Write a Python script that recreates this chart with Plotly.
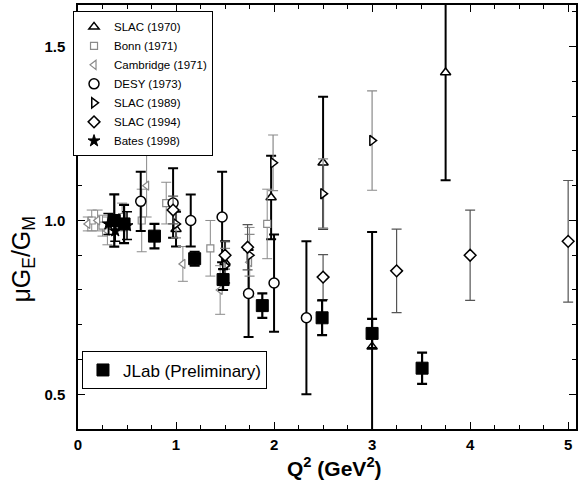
import plotly.graph_objects as go

# ---- data ----
jlab_q2 = [0.37, 0.47, 0.78, 1.19, 1.48, 1.88, 2.49, 3.00, 3.51]
jlab_r = [1.00, 0.99, 0.955, 0.89, 0.83, 0.755, 0.72, 0.675, 0.575]
jlab_err = [0.075, 0.055, 0.035, 0.02, 0.03, 0.035, 0.05, 0.042, 0.045]

slac70_q2 = [1.00, 1.50, 1.97, 2.50, 3.00, 3.75]
slac70_r = [0.975, 0.88, 1.066, 1.166, 0.637, 1.426]
slac70_err = [0.05, 0.06, 0.12, 0.19, 0.33, 0.31]

bonn_q2 = [0.14, 0.25, 0.45, 0.65, 0.90, 1.35, 1.93]
bonn_r = [1.00, 0.985, 1.01, 1.00, 1.05, 0.92, 0.99]
bonn_err = [0.03, 0.03, 0.04, 0.09, 0.06, 0.08, 0.10]

camb_q2 = [0.10, 0.20, 0.30, 0.70, 1.07, 1.45, 1.75]
camb_r = [0.99, 1.00, 0.97, 1.10, 0.875, 0.80, 0.88]
camb_err = [0.02, 0.03, 0.04, 0.09, 0.05, 0.07, 0.10]

desy_q2 = [0.64, 0.97, 1.15, 1.47, 1.74, 2.00, 2.33]
desy_r = [1.055, 1.05, 1.00, 1.01, 0.79, 0.82, 0.72]
desy_err = [0.085, 0.10, 0.075, 0.13, 0.125, 0.14, 0.22]

slac89_q2 = [1.00, 1.50, 1.75, 1.99, 2.50, 3.00]
slac89_r = [0.99, 0.87, 0.90, 1.166, 1.077, 1.23]
slac89_err = [0.04, 0.05, 0.06, 0.08, 0.10, 0.143]

slac94_q2 = [0.97, 1.50, 1.73, 2.50, 3.25, 4.00, 5.00]
slac94_r = [1.03, 0.90, 0.923, 0.837, 0.855, 0.90, 0.94]
slac94_err = [0.04, 0.04, 0.065, 0.065, 0.12, 0.13, 0.175]

bates_q2 = [0.31, 0.38, 0.50]
bates_r = [0.99, 0.97, 0.985]
bates_err = [0.03, 0.03, 0.04]

x_ticks = [0, 1, 2, 3, 4, 5]
y_ticks = [0.5, 1.0, 1.5]

FONT = "Liberation Sans, Arial, Helvetica, sans-serif"
GRAY = "#8a8a8a"

fig = go.Figure()


def add(name, x, y, e, symbol, size, color, ecolor, ewidth, lw, legend="legend", filled=False):
    fig.add_trace(go.Scatter(
        x=x, y=y, mode="markers", name=name, legend=legend,
        error_y=dict(type="data", array=e, visible=True, color=ecolor,
                     thickness=ewidth, width=5),
        marker=dict(symbol=symbol, size=size,
                    color=color if filled else "white",
                    line=dict(color=color, width=lw)),
    ))


add("SLAC (1970)", slac70_q2, slac70_r, slac70_err, "triangle-up", 9, "black", "black", 2, 1.5)
add("Bonn (1971)", bonn_q2, bonn_r, bonn_err, "square", 7, GRAY, GRAY, 1, 1.2)
add("Cambridge (1971)", camb_q2, camb_r, camb_err, "triangle-left", 8, GRAY, GRAY, 1, 1.2)
add("DESY (1973)", desy_q2, desy_r, desy_err, "circle", 10, "black", "black", 2, 1.5)
add("SLAC (1989)", slac89_q2, slac89_r, slac89_err, "triangle-right", 9, "black", GRAY, 1.2, 1.5)
add("SLAC (1994)", slac94_q2, slac94_r, slac94_err, "diamond", 9, "black", "#555555", 1.2, 1.5)
add("Bates (1998)", bates_q2, bates_r, bates_err, "star", 9, "black", "black", 1.5, 1, filled=True)
add("JLab (Preliminary)", jlab_q2, jlab_r, jlab_err, "square", 12, "black", "black", 2.2, 1,
    legend="legend2", filled=True)

axis_common = dict(
    showline=True, linecolor="black", linewidth=1.5, mirror="ticks",
    ticks="inside", tickcolor="black", tickwidth=1.2, ticklen=7,
    showgrid=False, zeroline=False,
    tickfont=dict(family=FONT, size=15, color="black", weight="bold"),
)

fig.update_xaxes(range=[0, 5.08], tickvals=x_ticks, ticktext=[str(v) for v in x_ticks],
                 minor=dict(dtick=0.25, ticks="inside", ticklen=4, tickcolor="black", tickwidth=1),
                 ticklabelstandoff=1, **axis_common)
fig.update_yaxes(range=[0.40, 1.62], tickvals=y_ticks, ticktext=[f"{v:.1f}" for v in y_ticks],
                 minor=dict(dtick=0.1, ticks="inside", ticklen=4, tickcolor="black", tickwidth=1),
                 ticklabelstandoff=8, **axis_common)

fig.update_layout(
    width=581, height=483,
    margin=dict(l=78, r=3, t=3, b=54),
    paper_bgcolor="white", plot_bgcolor="white",
    showlegend=True,
    legend=dict(x=-0.01, y=0.985, xanchor="left", yanchor="top",
                bordercolor="black", borderwidth=1, bgcolor="white",
                font=dict(family=FONT, size=11.5, color="black"),
                tracegroupgap=0, itemwidth=30),
    legend2=dict(x=0.008, y=0.183, xanchor="left", yanchor="top",
                 bordercolor="black", borderwidth=1, bgcolor="white",
                 font=dict(family=FONT, size=17, color="black"), itemwidth=30),
    annotations=[
        dict(text="μG<sub>E</sub>/G<sub>M</sub>", xref="paper", yref="paper",
             x=-0.11, y=0.40, textangle=-90, showarrow=False,
             xanchor="center", yanchor="middle",
             font=dict(family=FONT, size=25, color="black")),
        dict(text="<b>Q<sup>2</sup> (GeV<sup>2</sup>)</b>", xref="paper", yref="paper",
             x=0.515, y=-0.125, showarrow=False, xanchor="center", yanchor="bottom",
             font=dict(family=FONT, size=21, color="black")),
    ],
)

fig.write_html("out.html")
